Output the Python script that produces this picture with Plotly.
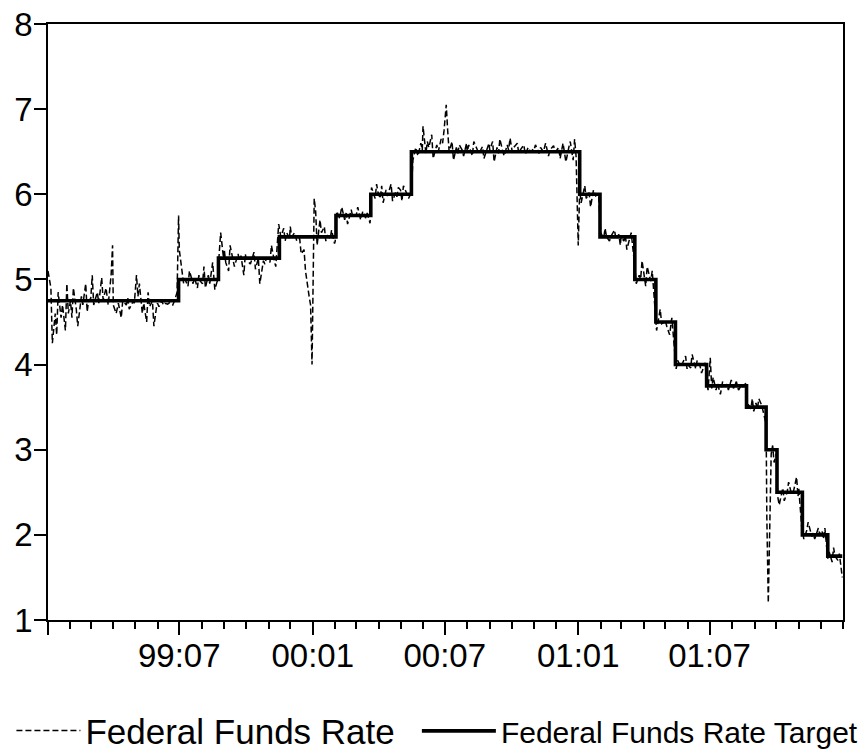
import numpy as np
import pandas as pd
import plotly.graph_objects as go

# Federal funds target: change dates and levels (percent)
target_dates = ["1999-01-01", "1999-06-30", "1999-08-24", "1999-11-16", "2000-02-02",
                "2000-03-21", "2000-05-16", "2001-01-03", "2001-01-31", "2001-03-20",
                "2001-04-18", "2001-05-15", "2001-06-27", "2001-08-21", "2001-09-17",
                "2001-10-02", "2001-11-06", "2001-12-11", "2001-12-31"]
target_values = [4.75, 5.00, 5.25, 5.50, 5.75, 6.00, 6.50, 6.00, 5.50, 5.00,
                 4.50, 4.00, 3.75, 3.50, 3.00, 2.50, 2.00, 1.75, 1.75]

# Effective federal funds rate, values read per month (spread over the month's business days)
ffr_1999 = [
    [5.10, 4.90, 4.25, 4.60, 4.35, 4.85, 4.55, 4.70, 4.40, 4.95, 4.60],
    [4.75, 4.55, 4.90, 4.65, 4.45, 4.80, 4.70, 4.95, 4.62, 4.75],
    [4.78, 5.05, 4.70, 4.85, 4.72, 5.02, 4.76, 4.90, 4.70, 5.05, 5.40],
    [4.70, 4.60, 4.72, 4.55, 4.75, 4.70, 4.78, 4.65, 4.74, 4.72],
    [5.05, 4.80, 4.95, 4.60, 4.72, 4.50, 4.85, 4.68, 4.75, 4.45, 4.70],
    [4.72, 4.68, 4.75, 4.70, 4.72, 4.71, 4.73, 4.70, 4.74, 4.85, 5.75],
    [5.35, 5.05, 4.95, 5.00, 4.92, 5.10, 4.95, 5.02, 4.90, 5.05, 4.98],
    [4.95, 5.15, 4.90, 5.05, 4.95, 5.20, 4.88, 5.00, 5.30, 5.55, 5.25],
    [5.35, 5.20, 5.10, 5.40, 5.25, 5.15, 5.30, 5.22, 5.28, 5.05, 5.30],
    [5.25, 5.20, 5.18, 5.32, 5.12, 5.25, 4.95, 5.22, 5.18, 5.25],
    [5.25, 5.20, 5.40, 5.22, 5.15, 5.65, 5.50, 5.60, 5.45, 5.55, 5.48],
    [5.62, 5.50, 5.55, 5.45, 5.48, 5.30, 5.35, 5.10, 4.80, 4.70, 4.00],
]
ffr_2000 = [
    [5.95, 5.80, 5.40, 5.70, 5.55, 5.62, 5.45, 5.52, 5.48, 5.58, 5.42],
    [5.45, 5.80, 5.72, 5.85, 5.70, 5.78, 5.65, 5.82, 5.74, 5.76],
    [5.75, 5.85, 5.70, 5.80, 5.72, 5.78, 5.66, 6.08, 5.95, 6.12, 6.02],
    [5.95, 6.10, 5.90, 6.05, 5.98, 6.12, 5.92, 6.02, 5.97, 6.08],
    [6.05, 5.92, 6.10, 6.00, 5.95, 6.02, 6.40, 6.55, 6.45, 6.60, 6.52],
    [6.80, 6.48, 6.62, 6.55, 6.70, 6.42, 6.58, 6.50, 6.65, 6.60, 6.75],
    [7.05, 6.75, 6.50, 6.62, 6.40, 6.55, 6.48, 6.58, 6.52, 6.45, 6.60],
    [6.50, 6.58, 6.45, 6.62, 6.52, 6.48, 6.56, 6.42, 6.55, 6.60],
    [6.52, 6.62, 6.38, 6.55, 6.48, 6.65, 6.50, 6.45, 6.58, 6.52, 6.66],
    [6.50, 6.55, 6.60, 6.48, 6.52, 6.58, 6.47, 6.55, 6.50, 6.53],
    [6.52, 6.58, 6.48, 6.55, 6.50, 6.60, 6.45, 6.52, 6.57, 6.50],
    [6.50, 6.55, 6.42, 6.60, 6.48, 6.38, 6.55, 6.62, 6.40, 6.65, 6.45],
]
ffr_2001 = [
    [5.40, 6.05, 5.90, 6.10, 5.95, 6.02, 5.85, 6.05, 5.98, 6.00, 5.60],
    [5.55, 5.48, 5.60, 5.50, 5.45, 5.52, 5.58, 5.47, 5.53, 5.40],
    [5.50, 5.45, 5.52, 5.35, 5.48, 5.55, 5.15, 4.95, 5.05, 5.00, 5.22],
    [5.05, 4.92, 5.15, 4.98, 5.10, 4.55, 4.40, 4.65, 4.48, 4.50],
    [4.52, 4.45, 4.35, 4.55, 4.10, 3.95, 4.05, 3.98, 4.02, 4.10, 3.95],
    [4.00, 3.96, 4.12, 3.95, 4.05, 3.98, 3.90, 4.02, 3.78, 3.70],
    [4.08, 3.72, 3.85, 3.70, 3.78, 3.65, 3.80, 3.74, 3.77, 3.70, 3.82],
    [3.78, 3.72, 3.80, 3.70, 3.76, 3.74, 3.78, 3.55, 3.48, 3.60, 3.45],
    [3.55, 3.48, 3.60, 3.52, 3.45, 3.30, 2.20, 1.20, 2.95, 3.05, 2.85],
    [2.95, 2.45, 2.35, 2.55, 2.40, 2.50, 2.62, 2.48, 2.52, 2.68, 2.45],
    [2.55, 2.10, 1.95, 2.05, 2.15, 1.98, 2.02, 1.95, 2.08, 2.00],
    [2.05, 1.95, 2.08, 1.72, 1.80, 1.68, 1.85, 1.75, 1.70, 1.78, 1.50],
]

tick_vals = ["1999-01-01", "1999-07-01", "2000-01-01", "2000-07-01", "2001-01-01", "2001-07-01"]
tick_text = ["", "99:07", "00:01", "00:07", "01:01", "01:07"]

# place each month's readings over that month's business days
ffr_dates, ffr_values = [], []
for year, months in zip([1999, 2000, 2001], [ffr_1999, ffr_2000, ffr_2001]):
    for m, vals in enumerate(months, start=1):
        start = pd.Timestamp(year=year, month=m, day=1)
        bdays = pd.bdate_range(start, start + pd.offsets.MonthEnd(0))
        idx = np.linspace(0, len(bdays) - 1, len(vals)).round().astype(int)
        ffr_dates.extend(bdays[idx])
        ffr_values.extend(vals)

FONT = "Liberation Sans, Arial, sans-serif"

fig = go.Figure()
fig.add_trace(go.Scatter(
    x=ffr_dates, y=ffr_values, mode="lines", name="Federal Funds Rate",
    line=dict(color="black", width=1.5, dash="6px,3px"), legend="legend"))
fig.add_trace(go.Scatter(
    x=target_dates, y=target_values, mode="lines", name="Federal Funds Rate Target",
    line=dict(color="black", width=3.6, shape="hv"), legend="legend2"))

fig.update_layout(
    width=865, height=753,
    margin=dict(l=48, r=22, t=24, b=133, autoexpand=False),
    paper_bgcolor="white", plot_bgcolor="white",
    font=dict(family=FONT, color="black", size=33),
    legend=dict(x=-0.046, y=-0.186, xanchor="left", yanchor="middle",
                font=dict(family=FONT, size=35, color="black"),
                bgcolor="rgba(0,0,0,0)", itemwidth=64),
    legend2=dict(x=0.464, y=-0.186, xanchor="left", yanchor="middle",
                 font=dict(family=FONT, size=30, color="black"),
                 bgcolor="rgba(0,0,0,0)", itemwidth=74),
    showlegend=True,
)
fig.update_xaxes(
    type="date", range=["1999-01-01", "2002-01-01"], automargin=False,
    tickvals=tick_vals, ticktext=tick_text,
    ticks="outside", ticklen=13, tickwidth=1.5, tickcolor="black",
    ticklabelstandoff=-8, ticklabeloverflow="allow",
    minor=dict(dtick="M1", tick0="1999-01-01", ticks="outside", ticklen=7,
               tickwidth=1.5, tickcolor="black", showgrid=False),
    showline=True, linecolor="black", linewidth=1.8, mirror=True,
    showgrid=False, zeroline=False,
    tickfont=dict(family=FONT, size=33, color="black"),
)
fig.update_yaxes(
    range=[1, 8], dtick=1, tick0=1, automargin=False,
    ticks="outside", ticklen=12, tickwidth=1.5, tickcolor="black",
    ticklabelstandoff=-5, ticklabeloverflow="allow",
    showline=True, linecolor="black", linewidth=1.8, mirror=True,
    showgrid=False, zeroline=False,
    tickfont=dict(family=FONT, size=33, color="black"),
)

# remove the page's default body margin so the figure fills the window exactly
fig.write_html("out.html", config={"displayModeBar": False},
               post_script="document.body.style.margin='0px';")
